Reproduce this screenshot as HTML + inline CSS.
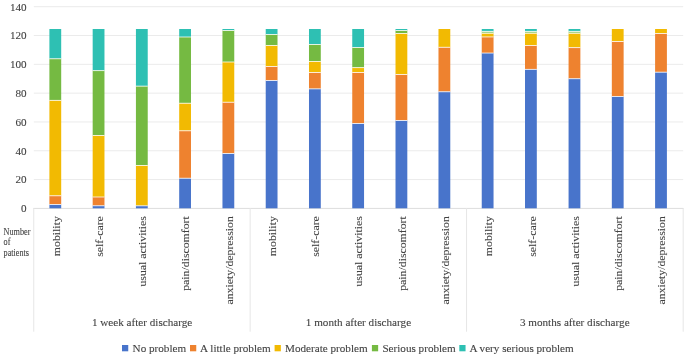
<!DOCTYPE html>
<html><head><meta charset="utf-8"><title>chart</title>
<style>
html,body{margin:0;padding:0;background:#fff;}
body{width:685px;height:357px;overflow:hidden;font-family:"Liberation Serif",serif;}
svg{will-change:transform;display:block;position:absolute;left:0;top:0;}
text{font-family:"Liberation Serif",serif;fill:#424242;stroke:#424242;stroke-width:0.1px;}
</style></head><body>
<svg width="685" height="357" viewBox="0 0 685 357">
<rect width="685" height="357" fill="#ffffff"/>

<line x1="33.8" x2="683.2" y1="179.59" y2="179.59" stroke="#EBEBEB" stroke-width="1"/>
<line x1="33.8" x2="683.2" y1="150.77" y2="150.77" stroke="#EBEBEB" stroke-width="1"/>
<line x1="33.8" x2="683.2" y1="121.96" y2="121.96" stroke="#EBEBEB" stroke-width="1"/>
<line x1="33.8" x2="683.2" y1="93.14" y2="93.14" stroke="#EBEBEB" stroke-width="1"/>
<line x1="33.8" x2="683.2" y1="64.33" y2="64.33" stroke="#EBEBEB" stroke-width="1"/>
<line x1="33.8" x2="683.2" y1="35.52" y2="35.52" stroke="#EBEBEB" stroke-width="1"/>
<line x1="33.8" x2="683.2" y1="6.70" y2="6.70" stroke="#EBEBEB" stroke-width="1"/>
<line x1="33.3" x2="683.5" y1="208.40" y2="208.40" stroke="#DDDDDD" stroke-width="1"/>
<line x1="33.75" x2="33.75" y1="208" y2="331.7" stroke="#E6E6E6" stroke-width="1"/>
<line x1="250.15" x2="250.15" y1="208" y2="331.7" stroke="#E6E6E6" stroke-width="1"/>
<line x1="466.55" x2="466.55" y1="208" y2="331.7" stroke="#E6E6E6" stroke-width="1"/>
<line x1="683.20" x2="683.20" y1="208" y2="331.7" stroke="#E6E6E6" stroke-width="1"/>
<rect x="49.40" y="29.00" width="11.80" height="29.75" fill="#2EC0B3"/>
<rect x="49.40" y="58.75" width="11.80" height="41.65" fill="#75BA42"/>
<rect x="49.40" y="100.40" width="11.80" height="95.35" fill="#F2BA02"/>
<rect x="49.40" y="195.75" width="11.80" height="8.75" fill="#EE822F"/>
<rect x="49.40" y="204.50" width="11.80" height="3.80" fill="#4874CB"/>
<line x1="49.40" x2="61.20" y1="58.75" y2="58.75" stroke="#fff" stroke-opacity="0.9" stroke-width="0.85"/>
<line x1="49.40" x2="61.20" y1="100.40" y2="100.40" stroke="#fff" stroke-opacity="0.9" stroke-width="0.85"/>
<line x1="49.40" x2="61.20" y1="195.75" y2="195.75" stroke="#fff" stroke-opacity="0.9" stroke-width="0.85"/>
<line x1="49.40" x2="61.20" y1="204.50" y2="204.50" stroke="#fff" stroke-opacity="0.9" stroke-width="0.85"/>
<rect x="92.67" y="29.00" width="11.80" height="41.60" fill="#2EC0B3"/>
<rect x="92.67" y="70.60" width="11.80" height="64.90" fill="#75BA42"/>
<rect x="92.67" y="135.50" width="11.80" height="61.50" fill="#F2BA02"/>
<rect x="92.67" y="197.00" width="11.80" height="8.75" fill="#EE822F"/>
<rect x="92.67" y="205.75" width="11.80" height="2.55" fill="#4874CB"/>
<line x1="92.67" x2="104.47" y1="70.60" y2="70.60" stroke="#fff" stroke-opacity="0.9" stroke-width="0.85"/>
<line x1="92.67" x2="104.47" y1="135.50" y2="135.50" stroke="#fff" stroke-opacity="0.9" stroke-width="0.85"/>
<line x1="92.67" x2="104.47" y1="197.00" y2="197.00" stroke="#fff" stroke-opacity="0.9" stroke-width="0.85"/>
<line x1="92.67" x2="104.47" y1="205.75" y2="205.75" stroke="#fff" stroke-opacity="0.9" stroke-width="0.85"/>
<rect x="135.93" y="29.00" width="11.80" height="57.15" fill="#2EC0B3"/>
<rect x="135.93" y="86.15" width="11.80" height="79.35" fill="#75BA42"/>
<rect x="135.93" y="165.50" width="11.80" height="40.30" fill="#F2BA02"/>
<rect x="135.93" y="205.80" width="11.80" height="2.50" fill="#4874CB"/>
<line x1="135.93" x2="147.73" y1="86.15" y2="86.15" stroke="#fff" stroke-opacity="0.9" stroke-width="0.85"/>
<line x1="135.93" x2="147.73" y1="165.50" y2="165.50" stroke="#fff" stroke-opacity="0.9" stroke-width="0.85"/>
<line x1="135.93" x2="147.73" y1="205.80" y2="205.80" stroke="#fff" stroke-opacity="0.9" stroke-width="0.85"/>
<rect x="179.19" y="29.00" width="11.80" height="8.00" fill="#2EC0B3"/>
<rect x="179.19" y="37.00" width="11.80" height="66.25" fill="#75BA42"/>
<rect x="179.19" y="103.25" width="11.80" height="27.50" fill="#F2BA02"/>
<rect x="179.19" y="130.75" width="11.80" height="47.50" fill="#EE822F"/>
<rect x="179.19" y="178.25" width="11.80" height="30.05" fill="#4874CB"/>
<line x1="179.19" x2="190.99" y1="37.00" y2="37.00" stroke="#fff" stroke-opacity="0.9" stroke-width="0.85"/>
<line x1="179.19" x2="190.99" y1="103.25" y2="103.25" stroke="#fff" stroke-opacity="0.9" stroke-width="0.85"/>
<line x1="179.19" x2="190.99" y1="130.75" y2="130.75" stroke="#fff" stroke-opacity="0.9" stroke-width="0.85"/>
<line x1="179.19" x2="190.99" y1="178.25" y2="178.25" stroke="#fff" stroke-opacity="0.9" stroke-width="0.85"/>
<rect x="222.46" y="29.00" width="11.80" height="1.50" fill="#2EC0B3"/>
<rect x="222.46" y="30.50" width="11.80" height="31.50" fill="#75BA42"/>
<rect x="222.46" y="62.00" width="11.80" height="40.25" fill="#F2BA02"/>
<rect x="222.46" y="102.25" width="11.80" height="51.25" fill="#EE822F"/>
<rect x="222.46" y="153.50" width="11.80" height="54.80" fill="#4874CB"/>
<line x1="222.46" x2="234.26" y1="30.50" y2="30.50" stroke="#fff" stroke-opacity="0.9" stroke-width="0.85"/>
<line x1="222.46" x2="234.26" y1="62.00" y2="62.00" stroke="#fff" stroke-opacity="0.9" stroke-width="0.85"/>
<line x1="222.46" x2="234.26" y1="102.25" y2="102.25" stroke="#fff" stroke-opacity="0.9" stroke-width="0.85"/>
<line x1="222.46" x2="234.26" y1="153.50" y2="153.50" stroke="#fff" stroke-opacity="0.9" stroke-width="0.85"/>
<rect x="265.72" y="29.00" width="11.80" height="5.50" fill="#2EC0B3"/>
<rect x="265.72" y="34.50" width="11.80" height="11.00" fill="#75BA42"/>
<rect x="265.72" y="45.50" width="11.80" height="21.00" fill="#F2BA02"/>
<rect x="265.72" y="66.50" width="11.80" height="14.00" fill="#EE822F"/>
<rect x="265.72" y="80.50" width="11.80" height="127.80" fill="#4874CB"/>
<line x1="265.72" x2="277.52" y1="34.50" y2="34.50" stroke="#fff" stroke-opacity="0.9" stroke-width="0.85"/>
<line x1="265.72" x2="277.52" y1="45.50" y2="45.50" stroke="#fff" stroke-opacity="0.9" stroke-width="0.85"/>
<line x1="265.72" x2="277.52" y1="66.50" y2="66.50" stroke="#fff" stroke-opacity="0.9" stroke-width="0.85"/>
<line x1="265.72" x2="277.52" y1="80.50" y2="80.50" stroke="#fff" stroke-opacity="0.9" stroke-width="0.85"/>
<rect x="308.99" y="29.00" width="11.80" height="15.50" fill="#2EC0B3"/>
<rect x="308.99" y="44.50" width="11.80" height="17.00" fill="#75BA42"/>
<rect x="308.99" y="61.50" width="11.80" height="11.00" fill="#F2BA02"/>
<rect x="308.99" y="72.50" width="11.80" height="16.35" fill="#EE822F"/>
<rect x="308.99" y="88.85" width="11.80" height="119.45" fill="#4874CB"/>
<line x1="308.99" x2="320.79" y1="44.50" y2="44.50" stroke="#fff" stroke-opacity="0.9" stroke-width="0.85"/>
<line x1="308.99" x2="320.79" y1="61.50" y2="61.50" stroke="#fff" stroke-opacity="0.9" stroke-width="0.85"/>
<line x1="308.99" x2="320.79" y1="72.50" y2="72.50" stroke="#fff" stroke-opacity="0.9" stroke-width="0.85"/>
<line x1="308.99" x2="320.79" y1="88.85" y2="88.85" stroke="#fff" stroke-opacity="0.9" stroke-width="0.85"/>
<rect x="352.25" y="29.00" width="11.80" height="18.50" fill="#2EC0B3"/>
<rect x="352.25" y="47.50" width="11.80" height="20.10" fill="#75BA42"/>
<rect x="352.25" y="67.60" width="11.80" height="4.90" fill="#F2BA02"/>
<rect x="352.25" y="72.50" width="11.80" height="51.00" fill="#EE822F"/>
<rect x="352.25" y="123.50" width="11.80" height="84.80" fill="#4874CB"/>
<line x1="352.25" x2="364.05" y1="47.50" y2="47.50" stroke="#fff" stroke-opacity="0.9" stroke-width="0.85"/>
<line x1="352.25" x2="364.05" y1="67.60" y2="67.60" stroke="#fff" stroke-opacity="0.9" stroke-width="0.85"/>
<line x1="352.25" x2="364.05" y1="72.50" y2="72.50" stroke="#fff" stroke-opacity="0.9" stroke-width="0.85"/>
<line x1="352.25" x2="364.05" y1="123.50" y2="123.50" stroke="#fff" stroke-opacity="0.9" stroke-width="0.85"/>
<rect x="395.51" y="29.00" width="11.80" height="1.50" fill="#2EC0B3"/>
<rect x="395.51" y="30.50" width="11.80" height="3.00" fill="#75BA42"/>
<rect x="395.51" y="33.50" width="11.80" height="41.00" fill="#F2BA02"/>
<rect x="395.51" y="74.50" width="11.80" height="46.00" fill="#EE822F"/>
<rect x="395.51" y="120.50" width="11.80" height="87.80" fill="#4874CB"/>
<line x1="395.51" x2="407.31" y1="30.50" y2="30.50" stroke="#fff" stroke-opacity="0.9" stroke-width="0.85"/>
<line x1="395.51" x2="407.31" y1="33.50" y2="33.50" stroke="#fff" stroke-opacity="0.9" stroke-width="0.85"/>
<line x1="395.51" x2="407.31" y1="74.50" y2="74.50" stroke="#fff" stroke-opacity="0.9" stroke-width="0.85"/>
<line x1="395.51" x2="407.31" y1="120.50" y2="120.50" stroke="#fff" stroke-opacity="0.9" stroke-width="0.85"/>
<rect x="438.48" y="29.00" width="11.80" height="18.30" fill="#F2BA02"/>
<rect x="438.48" y="47.30" width="11.80" height="44.45" fill="#EE822F"/>
<rect x="438.48" y="91.75" width="11.80" height="116.55" fill="#4874CB"/>
<line x1="438.48" x2="450.28" y1="47.30" y2="47.30" stroke="#fff" stroke-opacity="0.9" stroke-width="0.85"/>
<line x1="438.48" x2="450.28" y1="91.75" y2="91.75" stroke="#fff" stroke-opacity="0.9" stroke-width="0.85"/>
<rect x="481.74" y="29.00" width="11.80" height="2.40" fill="#2EC0B3"/>
<rect x="481.74" y="31.40" width="11.80" height="1.90" fill="#9CCF78"/>
<rect x="481.74" y="33.30" width="11.80" height="3.65" fill="#F2BA02"/>
<rect x="481.74" y="36.95" width="11.80" height="16.10" fill="#EE822F"/>
<rect x="481.74" y="53.05" width="11.80" height="155.25" fill="#4874CB"/>
<line x1="481.74" x2="493.54" y1="31.40" y2="31.40" stroke="#fff" stroke-opacity="0.9" stroke-width="0.85"/>
<line x1="481.74" x2="493.54" y1="33.30" y2="33.30" stroke="#fff" stroke-opacity="0.9" stroke-width="0.85"/>
<line x1="481.74" x2="493.54" y1="36.95" y2="36.95" stroke="#fff" stroke-opacity="0.9" stroke-width="0.85"/>
<line x1="481.74" x2="493.54" y1="53.05" y2="53.05" stroke="#fff" stroke-opacity="0.9" stroke-width="0.85"/>
<rect x="525.01" y="29.00" width="11.80" height="2.40" fill="#2EC0B3"/>
<rect x="525.01" y="31.40" width="11.80" height="1.90" fill="#9CCF78"/>
<rect x="525.01" y="33.30" width="11.80" height="12.20" fill="#F2BA02"/>
<rect x="525.01" y="45.50" width="11.80" height="23.90" fill="#EE822F"/>
<rect x="525.01" y="69.40" width="11.80" height="138.90" fill="#4874CB"/>
<line x1="525.01" x2="536.81" y1="31.40" y2="31.40" stroke="#fff" stroke-opacity="0.9" stroke-width="0.85"/>
<line x1="525.01" x2="536.81" y1="33.30" y2="33.30" stroke="#fff" stroke-opacity="0.9" stroke-width="0.85"/>
<line x1="525.01" x2="536.81" y1="45.50" y2="45.50" stroke="#fff" stroke-opacity="0.9" stroke-width="0.85"/>
<line x1="525.01" x2="536.81" y1="69.40" y2="69.40" stroke="#fff" stroke-opacity="0.9" stroke-width="0.85"/>
<rect x="568.57" y="29.00" width="11.80" height="2.40" fill="#2EC0B3"/>
<rect x="568.57" y="31.40" width="11.80" height="1.90" fill="#9CCF78"/>
<rect x="568.57" y="33.30" width="11.80" height="14.30" fill="#F2BA02"/>
<rect x="568.57" y="47.60" width="11.80" height="31.10" fill="#EE822F"/>
<rect x="568.57" y="78.70" width="11.80" height="129.60" fill="#4874CB"/>
<line x1="568.57" x2="580.37" y1="31.40" y2="31.40" stroke="#fff" stroke-opacity="0.9" stroke-width="0.85"/>
<line x1="568.57" x2="580.37" y1="33.30" y2="33.30" stroke="#fff" stroke-opacity="0.9" stroke-width="0.85"/>
<line x1="568.57" x2="580.37" y1="47.60" y2="47.60" stroke="#fff" stroke-opacity="0.9" stroke-width="0.85"/>
<line x1="568.57" x2="580.37" y1="78.70" y2="78.70" stroke="#fff" stroke-opacity="0.9" stroke-width="0.85"/>
<rect x="611.83" y="29.00" width="11.80" height="12.50" fill="#F2BA02"/>
<rect x="611.83" y="41.50" width="11.80" height="55.00" fill="#EE822F"/>
<rect x="611.83" y="96.50" width="11.80" height="111.80" fill="#4874CB"/>
<line x1="611.83" x2="623.63" y1="41.50" y2="41.50" stroke="#fff" stroke-opacity="0.9" stroke-width="0.85"/>
<line x1="611.83" x2="623.63" y1="96.50" y2="96.50" stroke="#fff" stroke-opacity="0.9" stroke-width="0.85"/>
<rect x="655.10" y="29.00" width="11.80" height="4.50" fill="#F2BA02"/>
<rect x="655.10" y="33.50" width="11.80" height="38.70" fill="#EE822F"/>
<rect x="655.10" y="72.20" width="11.80" height="136.10" fill="#4874CB"/>
<line x1="655.10" x2="666.90" y1="33.50" y2="33.50" stroke="#fff" stroke-opacity="0.9" stroke-width="0.85"/>
<line x1="655.10" x2="666.90" y1="72.20" y2="72.20" stroke="#fff" stroke-opacity="0.9" stroke-width="0.85"/>
<text x="26.7" y="212.30" font-size="11.15" text-anchor="end">0</text>
<text x="26.7" y="183.49" font-size="11.15" text-anchor="end">20</text>
<text x="26.7" y="154.67" font-size="11.15" text-anchor="end">40</text>
<text x="26.7" y="125.86" font-size="11.15" text-anchor="end">60</text>
<text x="26.7" y="97.04" font-size="11.15" text-anchor="end">80</text>
<text x="26.7" y="68.23" font-size="11.15" text-anchor="end">100</text>
<text x="26.7" y="39.42" font-size="11.15" text-anchor="end">120</text>
<text x="26.7" y="10.60" font-size="11.15" text-anchor="end">140</text>
<text transform="translate(59.60,216.2) rotate(-90) scale(1.057,1)" font-size="11.15" text-anchor="end">mobility</text>
<text transform="translate(102.87,216.2) rotate(-90) scale(1.057,1)" font-size="11.15" text-anchor="end">self-care</text>
<text transform="translate(146.13,216.2) rotate(-90) scale(1.057,1)" font-size="11.15" text-anchor="end">usual activities</text>
<text transform="translate(189.39,216.2) rotate(-90) scale(1.057,1)" font-size="11.15" text-anchor="end">pain/discomfort</text>
<text transform="translate(232.66,216.2) rotate(-90) scale(1.057,1)" font-size="11.15" text-anchor="end">anxiety/depression</text>
<text transform="translate(275.92,216.2) rotate(-90) scale(1.057,1)" font-size="11.15" text-anchor="end">mobility</text>
<text transform="translate(319.19,216.2) rotate(-90) scale(1.057,1)" font-size="11.15" text-anchor="end">self-care</text>
<text transform="translate(362.45,216.2) rotate(-90) scale(1.057,1)" font-size="11.15" text-anchor="end">usual activities</text>
<text transform="translate(405.71,216.2) rotate(-90) scale(1.057,1)" font-size="11.15" text-anchor="end">pain/discomfort</text>
<text transform="translate(448.98,216.2) rotate(-90) scale(1.057,1)" font-size="11.15" text-anchor="end">anxiety/depression</text>
<text transform="translate(492.24,216.2) rotate(-90) scale(1.057,1)" font-size="11.15" text-anchor="end">mobility</text>
<text transform="translate(535.51,216.2) rotate(-90) scale(1.057,1)" font-size="11.15" text-anchor="end">self-care</text>
<text transform="translate(578.77,216.2) rotate(-90) scale(1.057,1)" font-size="11.15" text-anchor="end">usual activities</text>
<text transform="translate(622.03,216.2) rotate(-90) scale(1.057,1)" font-size="11.15" text-anchor="end">pain/discomfort</text>
<text transform="translate(665.30,216.2) rotate(-90) scale(1.057,1)" font-size="11.15" text-anchor="end">anxiety/depression</text>
<text x="142.13" y="326.3" font-size="11.15" text-anchor="middle">1 week after discharge</text>
<text x="358.45" y="326.3" font-size="11.15" text-anchor="middle">1 month after discharge</text>
<text x="574.77" y="326.3" font-size="11.15" text-anchor="middle">3 months after discharge</text>
<rect x="122.00" y="345.0" width="6.25" height="6.3" fill="#4874CB"/>
<text x="132.60" y="351.8" font-size="11.15">No problem</text>
<rect x="190.00" y="345.0" width="6.25" height="6.3" fill="#EE822F"/>
<text x="200.10" y="351.8" font-size="11.15">A little problem</text>
<rect x="274.60" y="345.0" width="6.25" height="6.3" fill="#F2BA02"/>
<text x="285.00" y="351.8" font-size="11.15">Moderate problem</text>
<rect x="371.90" y="345.0" width="6.25" height="6.3" fill="#75BA42"/>
<text x="382.40" y="351.8" font-size="11.15">Serious problem</text>
<rect x="459.30" y="345.0" width="6.25" height="6.3" fill="#2EC0B3"/>
<text x="469.40" y="351.8" font-size="11.15">A very serious problem</text>
<text transform="translate(3.6,234.90) scale(0.82,1)" font-size="10" fill="#000" stroke="#000" stroke-width="0.3">Number</text>
<text transform="translate(3.6,245.30) scale(0.82,1)" font-size="10" fill="#000" stroke="#000" stroke-width="0.3">of</text>
<text transform="translate(3.6,255.70) scale(0.82,1)" font-size="10" fill="#000" stroke="#000" stroke-width="0.3">patients</text>
</svg></body></html>
